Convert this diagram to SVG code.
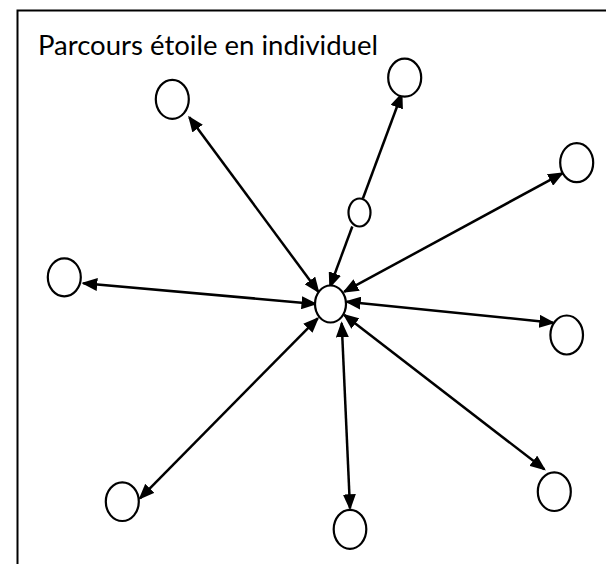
<svg xmlns="http://www.w3.org/2000/svg" width="606" height="564" viewBox="0 0 606 564">
<style>
.n{fill:#fff;stroke:#000;stroke-width:2.2}
.c{stroke:#000;stroke-width:2.5;fill:none}
.t{font-family:Lato,"Open Sans","Liberation Sans",sans-serif;font-size:26px;fill:#000}
</style>
<defs>
<marker id="ah" viewBox="0 0 16 13" refX="14" refY="6.5" markerWidth="16" markerHeight="13" markerUnits="userSpaceOnUse" orient="auto-start-reverse">
<path d="M0,0 L16,6.5 L0,13 z" fill="#000"/>
</marker>
</defs>
<rect x="0" y="0" width="606" height="564" fill="#fff"/>
<path d="M17.5,564 V10.5 H606" fill="none" stroke="#000" stroke-width="2"/>
<text class="t" x="38" y="55" textLength="340" lengthAdjust="spacingAndGlyphs">Parcours étoile en individuel</text>
<g id="connectors">
<line class="c" x1="318.3" y1="291.7" x2="189.3" y2="117.3" marker-start="url(#ah)" marker-end="url(#ah)"/>
<line class="c" x1="362.9" y1="198.5" x2="401.7" y2="94" marker-end="url(#ah)"/>
<line class="c" x1="352.3" y1="226.5" x2="330" y2="286.7" marker-end="url(#ah)"/>
<line class="c" x1="344.3" y1="291.7" x2="562.3" y2="173.3" marker-start="url(#ah)" marker-end="url(#ah)"/>
<line class="c" x1="346.7" y1="301.7" x2="553.3" y2="322.7" marker-start="url(#ah)" marker-end="url(#ah)"/>
<line class="c" x1="315.5" y1="303.9" x2="83.3" y2="283.3" marker-start="url(#ah)" marker-end="url(#ah)"/>
<line class="c" x1="317.7" y1="318.3" x2="140" y2="498.3" marker-start="url(#ah)" marker-end="url(#ah)"/>
<line class="c" x1="341.7" y1="323.3" x2="350" y2="508.3" marker-start="url(#ah)" marker-end="url(#ah)"/>
<line class="c" x1="344.3" y1="315" x2="544.3" y2="469.3" marker-start="url(#ah)" marker-end="url(#ah)"/>
</g>
<g id="center"><ellipse class="n" cx="330.5" cy="304" rx="15.5" ry="18.5"/></g>
<g id="relay"><ellipse class="n" cx="359.5" cy="212.5" rx="11" ry="14"/></g>
<g id="n-upper-left"><ellipse class="n" cx="172.3" cy="99.3" rx="16.5" ry="19.5"/></g>
<g id="n-top"><ellipse class="n" cx="404.7" cy="77.7" rx="16.5" ry="19"/></g>
<g id="n-upper-right"><ellipse class="n" cx="576.7" cy="162.7" rx="16.5" ry="19.5"/></g>
<g id="n-right"><ellipse class="n" cx="566.7" cy="335" rx="16.3" ry="19.5"/></g>
<g id="n-left"><ellipse class="n" cx="64.3" cy="277.3" rx="16.5" ry="19"/></g>
<g id="n-bottom-left"><ellipse class="n" cx="122.3" cy="501.7" rx="16.5" ry="19.3"/></g>
<g id="n-bottom"><ellipse class="n" cx="350" cy="529.3" rx="16.3" ry="19.5"/></g>
<g id="n-bottom-right"><ellipse class="n" cx="554.3" cy="491.7" rx="16.5" ry="19.3"/></g>
</svg>
